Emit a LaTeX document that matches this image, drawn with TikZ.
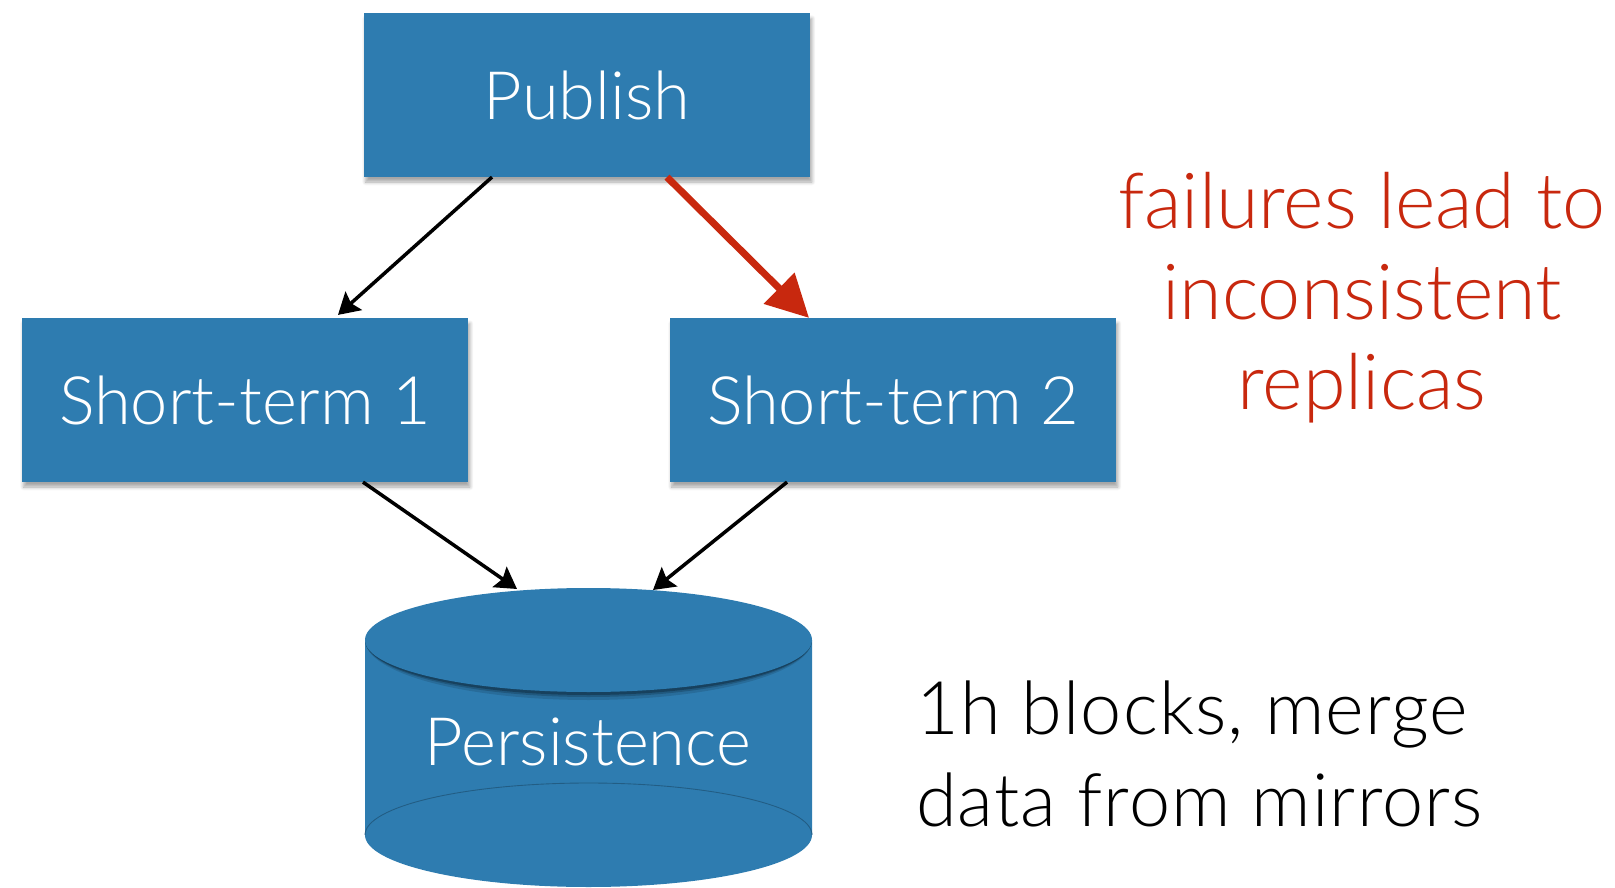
\documentclass[tikz,border=0pt]{standalone}
\usepackage{fontspec}
\setmainfont{Lato}[UprightFont={* Light}]
\usetikzlibrary{arrows.meta,calc,shadows.blur}

\definecolor{tileblue}{RGB}{46,124,176}
\definecolor{warnred}{RGB}{200,40,14}

\begin{document}
\begin{tikzpicture}[x=0.02cm, y=-0.02cm,
    tile/.style={fill=tileblue, minimum width=8.93cm, minimum height=3.27cm,
                 text=white, font=\fontsize{38}{46}\selectfont,
                 blur shadow={shadow xshift=1pt, shadow yshift=-3pt, shadow blur steps=6, shadow opacity=35}},
    arr/.style={-{Stealth[length=12pt, width=14pt, inset=2pt]}, line width=2pt},
    redarr/.style={-{Triangle[length=24pt, width=24pt]}, line width=4pt, warnred},
    note/.style={font=\fontsize{44}{51.6}\selectfont, align=center}
]
\useasboundingbox (0,0) rectangle (1615,888);

% the three stages
\node[tile] (pub) at (587,95) {Publish};
\node[tile] (st1) at (245,400) {Short-term 1};
\node[tile] (st2) at (893,400) {Short-term 2};

% persistence store as a cylinder
\fill[tileblue] (365,640) -- (365,835) arc[start angle=180, end angle=0, x radius=223.5, y radius=52]
    -- (812,640) -- cycle;
\draw[tileblue!75!black, line width=0.5pt] (812,835) arc[start angle=0, end angle=-180, x radius=223.5, y radius=52];
\foreach \r/\op in {60/0.12, 57/0.18, 55/0.25} {
  \fill[black, opacity=\op] (365,640) arc[start angle=180, end angle=0, x radius=223.5, y radius=\r] -- cycle;
}
\fill[tileblue] (588.5,640) ellipse[x radius=223.5, y radius=52];
\node[text=white, font=\fontsize{38}{46}\selectfont] (pers) at (588,742) {Persistence};
\coordinate (dbin1) at (517,589);
\coordinate (dbin2) at (653,590);

% flow between stages
\draw[arr] ([xshift=-1.9cm]pub.south) -- ([xshift=1.86cm, yshift=0.06cm]st1.north);
\draw[redarr] ([xshift=1.6cm]pub.south) -- ([xshift=-1.68cm]st2.north);
\draw[arr] ([xshift=2.36cm]st1.south) -- (dbin1);
\draw[arr] ([xshift=-2.12cm]st2.south) -- (dbin2);

% side notes
\node[note, text=warnred] (fail) at (1362,298) {failures lead to\\inconsistent\\replicas};
\node[note, anchor=west, align=left, font=\fontsize{42}{52}\selectfont\addfontfeatures{LetterSpace=1.5}] (merge) at (910,754) {1h blocks, merge\\data from mirrors};
\end{tikzpicture}
\end{document}
